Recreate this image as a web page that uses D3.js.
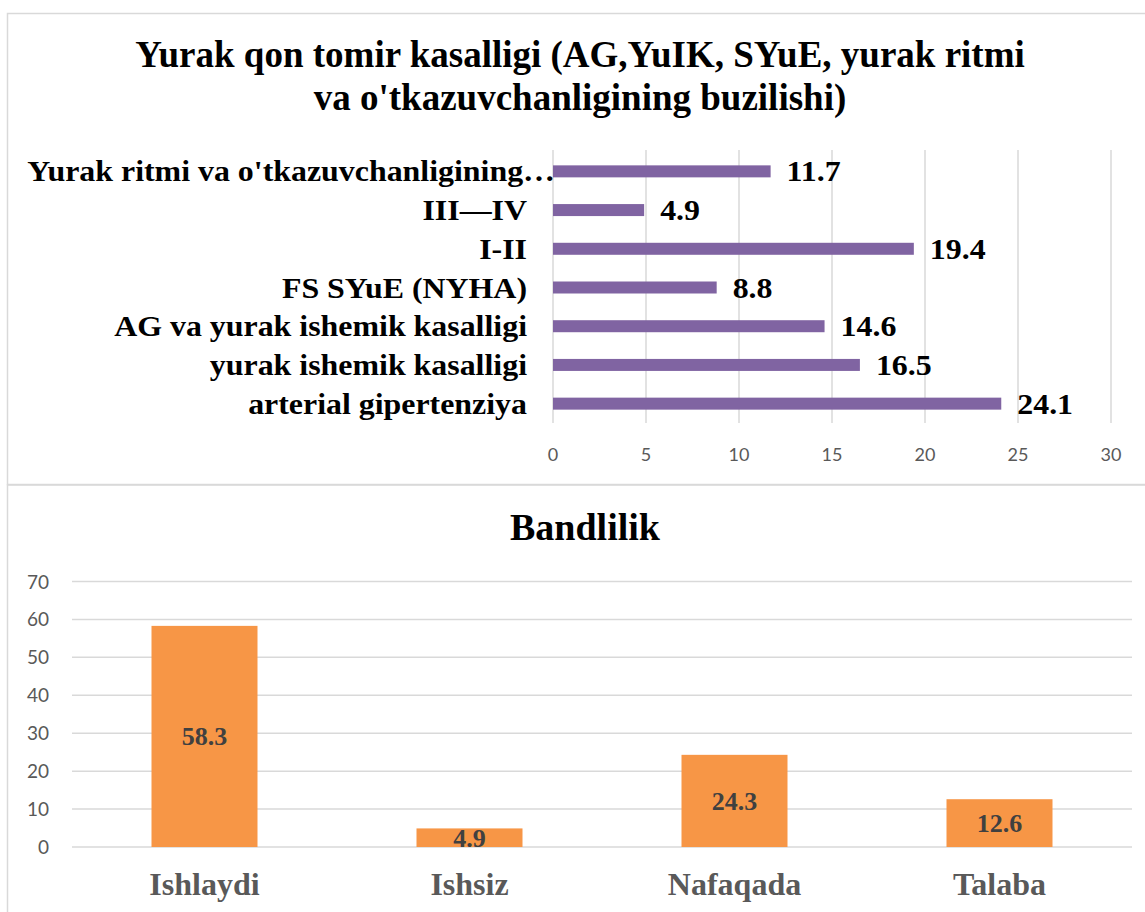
<!DOCTYPE html>
<html>
<head>
<meta charset="utf-8">
<script src="https://cdn.jsdelivr.net/npm/d3@7"></script>
<style>
  body { margin: 0; background: #fff; }
  svg { display: block; }
</style>
</head>
<body>
<svg id="chart" width="1145" height="912"></svg>
<script>
// top chart data (top to bottom as drawn)
const diseaseLabels = [
  "Yurak ritmi va o'tkazuvchanligining buzilishi",
  "III\u2014IV",
  "I-II",
  "FS SYuE (NYHA)",
  "AG va yurak ishemik kasalligi",
  "yurak ishemik kasalligi",
  "arterial gipertenziya"
];
const diseaseValues = [11.7, 4.9, 19.4, 8.8, 14.6, 16.5, 24.1];
const diseaseTicks = [0, 5, 10, 15, 20, 25, 30];

// bottom chart data
const jobLabels = ["Ishlaydi", "Ishsiz", "Nafaqada", "Talaba"];
const jobValues = [58.3, 4.9, 24.3, 12.6];
const jobTicks = [0, 10, 20, 30, 40, 50, 60, 70];

const serif = "'Liberation Serif', 'Times New Roman', serif";
const sans = "Lato, 'Open Sans', sans-serif";
const grid = '#d9d9d9';
const stretch = 1.1; // the top chart's text is a bit wide in the reference

const svg = d3.select('#chart');

// panel borders
svg.append('rect')
  .attr('x', 7.5).attr('y', 13.5).attr('width', 1160).attr('height', 471)
  .attr('fill', 'none').attr('stroke', grid).attr('stroke-width', 1.5);
svg.append('rect')
  .attr('x', 7.5).attr('y', 485).attr('width', 1160).attr('height', 460)
  .attr('fill', 'none').attr('stroke', grid).attr('stroke-width', 1.5);

// ---------- top chart ----------
const topChart = svg.append('g');

const titleLines = ["Yurak qon tomir kasalligi (AG,YuIK, SYuE, yurak ritmi", "va o'tkazuvchanligining buzilishi)"];
topChart.selectAll('text.title')
  .data(titleLines)
  .enter()
  .append('text')
  .attr('class', 'title')
  .attr('x', 580)
  .attr('y', (d, i) => 67 + i * 43)
  .attr('text-anchor', 'middle')
  .style('font-family', serif)
  .style('font-weight', 'bold')
  .style('font-size', '37px')
  .text(d => d);

const x = d3.scaleLinear().domain([0, 30]).range([553, 1111]);
const y = d3.scaleBand().domain(diseaseLabels).range([152, 423])
  .paddingInner(0.69).paddingOuter(0.345);

topChart.append('g')
  .selectAll('line')
  .data(diseaseTicks)
  .enter()
  .append('line')
  .attr('x1', d => x(d)).attr('x2', d => x(d))
  .attr('y1', 150).attr('y2', 423)
  .attr('stroke', grid).attr('stroke-width', 1.5);

topChart.append('g')
  .selectAll('text')
  .data(diseaseTicks)
  .enter()
  .append('text')
  .attr('x', d => x(d))
  .attr('y', 461)
  .attr('text-anchor', 'middle')
  .style('font-family', sans)
  .style('font-size', '18px')
  .attr('fill', '#595959')
  .text(d => d);

topChart.append('g')
  .selectAll('rect')
  .data(diseaseValues)
  .enter()
  .append('rect')
  .attr('x', x(0))
  .attr('y', (d, i) => y(diseaseLabels[i]))
  .attr('width', d => x(d) - x(0))
  .attr('height', y.bandwidth())
  .attr('fill', '#8064a2');

// category labels, the long one is cut off with an ellipsis like in Excel
topChart.append('g')
  .selectAll('text')
  .data(diseaseLabels)
  .enter()
  .append('text')
  .attr('transform', (d, i) => {
    const tx = i === 0 ? x(0) + 2 : 527;
    return `translate(${tx},${y(d) + y.bandwidth() / 2 + 10}) scale(${stretch},1)`;
  })
  .attr('text-anchor', 'end')
  .style('font-family', serif)
  .style('font-weight', 'bold')
  .style('font-size', '29px')
  .text(d => d.length > 40 ? "Yurak ritmi va o'tkazuvchanligining\u2026" : d);

topChart.append('g')
  .selectAll('text')
  .data(diseaseValues)
  .enter()
  .append('text')
  .attr('transform', (d, i) =>
    `translate(${x(d) + 16},${y(diseaseLabels[i]) + y.bandwidth() / 2 + 10}) scale(${stretch},1)`)
  .style('font-family', serif)
  .style('font-weight', 'bold')
  .style('font-size', '29px')
  .text(d => d.toFixed(1));

// ---------- bottom chart ----------
const bottomChart = svg.append('g');

bottomChart.append('text')
  .attr('x', 585)
  .attr('y', 540)
  .attr('text-anchor', 'middle')
  .style('font-family', serif)
  .style('font-weight', 'bold')
  .style('font-size', '38px')
  .text('Bandlilik');

const yb = d3.scaleLinear().domain([0, 70]).range([847, 581.5]);
const xb = d3.scaleBand().domain(jobLabels).range([72, 1132])
  .paddingInner(0.6).paddingOuter(0.3);

bottomChart.append('g')
  .selectAll('line')
  .data(jobTicks)
  .enter()
  .append('line')
  .attr('x1', 72).attr('x2', 1132)
  .attr('y1', d => yb(d)).attr('y2', d => yb(d))
  .attr('stroke', grid).attr('stroke-width', 1.5);

bottomChart.append('g')
  .selectAll('text')
  .data(jobTicks)
  .enter()
  .append('text')
  .attr('x', 49)
  .attr('y', d => yb(d) + 7)
  .attr('text-anchor', 'end')
  .style('font-family', sans)
  .style('font-size', '19px')
  .attr('fill', '#595959')
  .text(d => d);

bottomChart.append('g')
  .selectAll('rect')
  .data(jobValues)
  .enter()
  .append('rect')
  .attr('x', (d, i) => xb(jobLabels[i]))
  .attr('y', d => yb(d))
  .attr('width', xb.bandwidth())
  .attr('height', d => yb(0) - yb(d))
  .attr('fill', '#f79646');

bottomChart.append('g')
  .selectAll('text')
  .data(jobValues)
  .enter()
  .append('text')
  .attr('x', (d, i) => xb(jobLabels[i]) + xb.bandwidth() / 2)
  .attr('y', d => (yb(d) + yb(0)) / 2 + 9)
  .attr('text-anchor', 'middle')
  .style('font-family', serif)
  .style('font-weight', 'bold')
  .style('font-size', '26px')
  .attr('fill', '#404040')
  .text(d => d.toFixed(1));

bottomChart.append('g')
  .selectAll('text')
  .data(jobLabels)
  .enter()
  .append('text')
  .attr('x', d => xb(d) + xb.bandwidth() / 2)
  .attr('y', 895)
  .attr('text-anchor', 'middle')
  .style('font-family', serif)
  .style('font-weight', 'bold')
  .style('font-size', '32px')
  .attr('fill', '#595959')
  .text(d => d);
</script>
</body>
</html>
